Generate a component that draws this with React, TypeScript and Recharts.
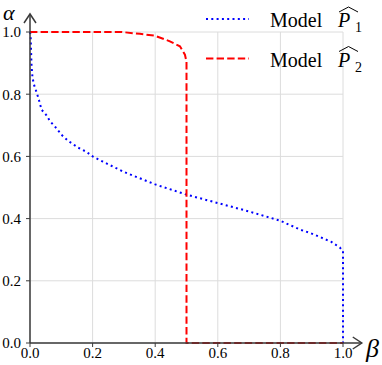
import { LineChart, Line, XAxis, YAxis, CartesianGrid, Legend, ReferenceLine } from 'recharts'

// model P1 (blue, dotted)
const betaP1 = [0, 0.002, 0.003, 0.004, 0.005, 0.008, 0.013, 0.018, 0.023, 0.029, 0.037, 0.052, 0.064, 0.085, 0.1, 0.122, 0.154, 0.18, 0.2, 0.233, 0.3, 0.4, 0.5, 0.6, 0.7, 0.8, 0.862, 0.894, 0.926, 0.963, 0.99, 1, 1]
const alphaP1 = [1, 0.99, 0.955, 0.92, 0.89, 0.853, 0.83, 0.815, 0.8, 0.78, 0.75, 0.733, 0.713, 0.69, 0.67, 0.65, 0.628, 0.615, 0.6, 0.583, 0.55, 0.51, 0.477, 0.45, 0.423, 0.393, 0.365, 0.354, 0.341, 0.325, 0.307, 0.295, 0]

// model P2 (red, dashed)
const betaP2 = [0, 0.1, 0.2, 0.293, 0.351, 0.399, 0.447, 0.479, 0.495, 0.5, 0.5, 0.6, 0.8, 1]
const alphaP2 = [1, 1, 1, 1, 0.994, 0.988, 0.97, 0.954, 0.927, 0.905, 0, 0, 0, 0]

const ticks = [0, 0.2, 0.4, 0.6, 0.8, 1]
const seriesNames = ['Model', 'Model']
const seriesSubs = ['1', '2']

const p1 = betaP1.map((b, i) => ({ beta: b, alpha: alphaP1[i] }))
const p2 = betaP2.map((b, i) => ({ beta: b, alpha: alphaP2[i] }))

const serif = 'Liberation Serif, DejaVu Serif, serif'
const axisColor = '#3a3a3a'

const Arrow = (props: any) => {
  const { x1, y1, x2, y2 } = props
  const a = Math.atan2(y2 - y1, x2 - x1)
  const L = 9
  const W = 6
  const bx = x2 - L * Math.cos(a)
  const by = y2 - L * Math.sin(a)
  const px = -Math.sin(a) * W
  const py = Math.cos(a) * W
  return (
    <g stroke={axisColor} strokeWidth={1.5} fill='none'>
      <line x1={x1} y1={y1} x2={x2} y2={y2} />
      <polyline points={`${bx + px},${by + py} ${x2},${y2} ${bx - px},${by - py}`} />
    </g>
  )
}

const renderLegend = () => {
  const styles = [
    { color: '#0000ff', dash: '2 3.3' },
    { color: '#ff0000', dash: '7.4 3.2' }
  ]
  return (
    <svg width={382} height={80} style={{ display: 'block' }}>
      {seriesNames.map((name, i) => {
        const y = 19 + i * 39.5
        const base = y + 8
        return (
          <g key={i}>
            <line x1={206} x2={249} y1={y} y2={y} stroke={styles[i].color} strokeWidth={2} strokeDasharray={styles[i].dash} />
            <text x={270} y={base} fontFamily={serif} fontSize={20} fill='#000'>{name}</text>
            <text x={338} y={base} fontFamily={serif} fontSize={20} fontStyle='italic' fill='#000'>P</text>
            <polyline points={`${339},${base - 15} ${348.5},${base - 20} ${358},${base - 15}`} fill='none' stroke='#000' strokeWidth={1} />
            <text x={355} y={base + 5} fontFamily={serif} fontSize={14} fill='#000'>{seriesSubs[i]}</text>
          </g>
        )
      })}
    </svg>
  )
}

export default function App () {
  return (
    <div style={{ position: 'absolute', left: 0, top: 0, width: 382, height: 365 }}>
      <LineChart width={382} height={365} margin={{ top: 32, right: 39, bottom: 0, left: 0 }}>
        <CartesianGrid stroke='#dcdcdc' strokeWidth={1} />
        <XAxis
          type='number'
          dataKey='beta'
          domain={[0, 1]}
          ticks={ticks}
          height={22}
          axisLine={false}
          tickLine={{ stroke: axisColor }}
          tickSize={4}
          tickMargin={0}
          tickFormatter={(v: number) => v.toFixed(1)}
          tick={{ fontFamily: serif, fontSize: 15, fill: '#000' }}
        />
        <YAxis
          type='number'
          dataKey='alpha'
          domain={[0, 1]}
          ticks={ticks}
          width={30}
          axisLine={false}
          tickLine={{ stroke: axisColor }}
          tickSize={4}
          tickMargin={5}
          tickFormatter={(v: number) => v.toFixed(1)}
          tick={{ fontFamily: serif, fontSize: 15, fill: '#000' }}
        />
        <Legend
          layout='horizontal'
          verticalAlign='middle'
          align='center'
          content={renderLegend}
          wrapperStyle={{ left: 0, top: 0, width: 382, height: 80 }}
        />
        <Line
          data={p1}
          dataKey='alpha'
          type='linear'
          stroke='#0000ff'
          strokeWidth={2}
          strokeDasharray='2 3.3'
          dot={false}
          activeDot={false}
          isAnimationActive={false}
        />
        <Line
          data={p2}
          dataKey='alpha'
          type='linear'
          stroke='#ff0000'
          strokeWidth={2}
          strokeDasharray='7.4 3.2'
          dot={false}
          activeDot={false}
          isAnimationActive={false}
        />
        <ReferenceLine segment={[{ x: 0, y: 0 }, { x: 1.06, y: 0 }]} ifOverflow='visible' shape={Arrow} />
        <ReferenceLine segment={[{ x: 0, y: 0 }, { x: 0, y: 1.058 }]} ifOverflow='visible' shape={Arrow} />
      </LineChart>
      <span style={{ position: 'absolute', left: 3, top: 0, lineHeight: 'normal', fontFamily: serif, fontStyle: 'italic', fontSize: 22 }}>α</span>
      <span style={{ position: 'absolute', left: 366, top: 336, lineHeight: 1, fontFamily: serif, fontStyle: 'italic', fontSize: 26 }}>β</span>
    </div>
  )
}
